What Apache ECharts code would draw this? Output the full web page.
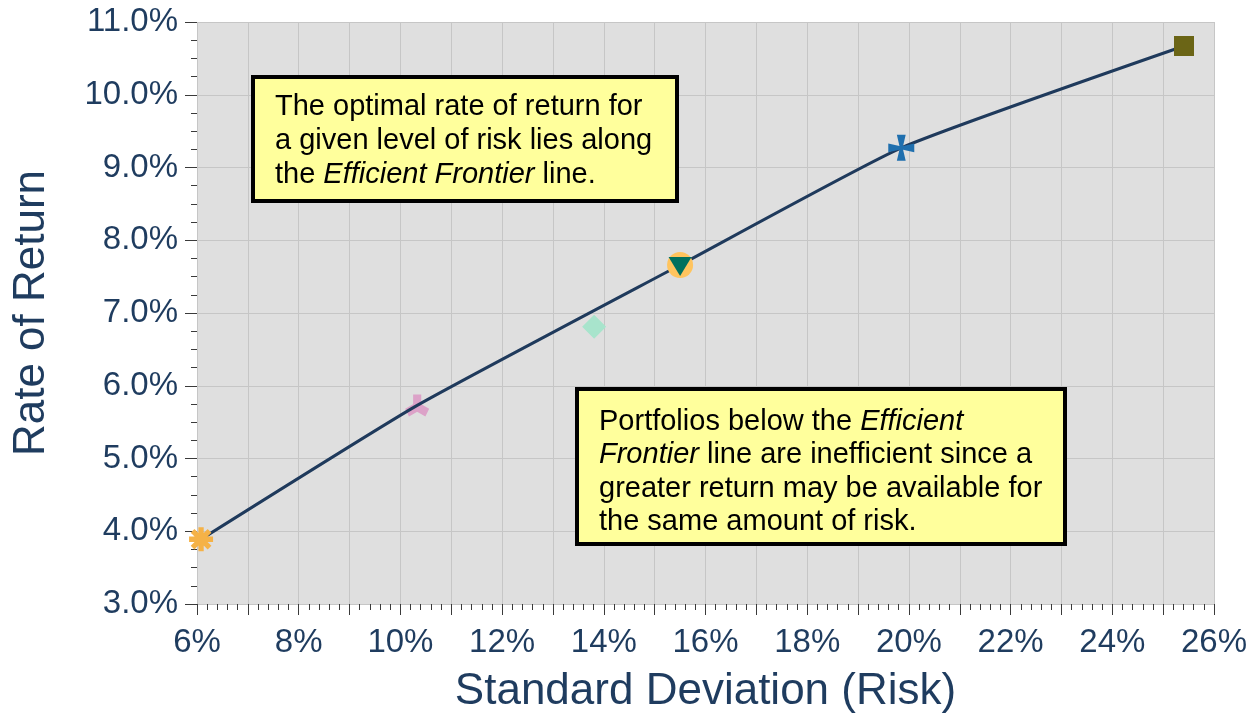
<!DOCTYPE html>
<html>
<head>
<meta charset="utf-8">
<title>Efficient Frontier</title>
<script src="https://cdn.jsdelivr.net/npm/echarts@6/dist/echarts.min.js"></script>
<style>
  html, body { margin: 0; padding: 0; background: #ffffff; }
  #chart { width: 1257px; height: 717px; }
</style>
</head>
<body>
<div id="chart"></div>
<script>
// Efficient frontier: risk (standard deviation, %) vs. rate of return (%)
const frontierRisk   = [6.08, 10.33, 15.50, 19.85, 25.41];
const frontierReturn = [3.89, 5.73, 7.66, 9.27, 10.67];

// Individual portfolios plotted with their own markers
const portfolioRisk   = [6.08, 10.33, 13.81, 15.50, 15.50, 19.85, 25.41];
const portfolioReturn = [3.89, 5.73, 6.81, 7.66, 7.64, 9.27, 10.67];

// Axis tick labels
const riskTickLabels   = [6, 8, 10, 12, 14, 16, 18, 20, 22, 24, 26];
const returnTickLabels = [3, 4, 5, 6, 7, 8, 9, 10, 11];

const FONT = '"Liberation Sans", Arial, sans-serif';
const NAVY = '#1F3C5F';

// Build a symbol path made of rectangular spokes radiating from the centre
function spokePath(angles, inner, outer, width) {
  let d = '';
  const h = width / 2;
  angles.forEach(function (deg) {
    const a = deg * Math.PI / 180;
    const ux = Math.cos(a), uy = Math.sin(a);
    const px = -uy, py = ux;
    const pts = [
      [ux * inner + px * h, uy * inner + py * h],
      [ux * outer + px * h, uy * outer + py * h],
      [ux * outer - px * h, uy * outer - py * h],
      [ux * inner - px * h, uy * inner - py * h]
    ];
    d += 'M' + pts.map(function (p) { return (p[0] + 50).toFixed(2) + ',' + (p[1] + 50).toFixed(2); }).join('L') + 'Z';
  });
  return 'path://' + d;
}

const asteriskSymbol = spokePath([0, 45, 90, 135, 180, 225, 270, 315], 0, 50, 22);
const tripodSymbol   = spokePath([270, 28, 152], -8, 48, 34);
const crossSymbol    = 'path://M33,0L67,0L57,43L100,33L100,67L57,57L67,100L33,100L43,57L0,67L0,33L43,43Z';

// Marker appearance for each portfolio, in the same order as the arrays above
const markerStyles = [
  { symbol: asteriskSymbol, size: 24, color: '#F5B247', z: 4 },
  { symbol: tripodSymbol,   size: [24, 22], color: '#DCA2C8', z: 1 },
  { symbol: 'diamond',      size: 24, color: '#A8E4CC', z: 4 },
  { symbol: 'circle',       size: 26, color: '#FFC45E', z: 4 },
  { symbol: 'triangle',     size: [23, 19], color: '#00705E', z: 5, rotate: 180 },
  { symbol: crossSymbol,    size: 26, color: '#1F6FAE', z: 4 },
  { symbol: 'rect',         size: 20, color: '#6B6516', z: 4 }
];

const markerSeries = portfolioRisk.map(function (r, i) {
  const s = markerStyles[i];
  return {
    type: 'scatter',
    data: [[r, portfolioReturn[i]]],
    symbol: s.symbol,
    symbolSize: s.size,
    symbolRotate: s.rotate || 0,
    itemStyle: { color: s.color, opacity: 1 },
    z: s.z,
    silent: true
  };
});

// Yellow call-out box with a thick black frame
function noteBox(x, y, w, h, tx, ty, text, lineHeight) {
  return [
    {
      type: 'rect',
      z: 100,
      shape: { x: x, y: y, width: w, height: h },
      style: { fill: '#FFFF9C', stroke: '#000000', lineWidth: 4 }
    },
    {
      type: 'text',
      z: 101,
      x: tx, y: ty,
      style: {
        text: text,
        fill: '#000000',
        fontSize: 29,
        fontFamily: FONT,
        lineHeight: lineHeight,
        verticalAlign: 'top',
        rich: {
          i: { fontStyle: 'italic', fontSize: 29, fontFamily: FONT, lineHeight: lineHeight, fill: '#000000' }
        }
      }
    }
  ];
}

const chart = echarts.init(document.getElementById('chart'), null, { renderer: 'canvas' });

chart.setOption({
  animation: false,
  backgroundColor: '#ffffff',
  grid: {
    left: 197, right: 43, top: 22, bottom: 113,
    containLabel: false,
    outerBoundsMode: 'none',
    show: true, backgroundColor: '#DFDFDF', borderWidth: 0
  },
  xAxis: {
    type: 'value',
    min: 6, max: 26, interval: 1,
    name: 'Standard Deviation (Risk)',
    nameLocation: 'middle',
    nameGap: 66,
    nameTextStyle: { color: NAVY, fontSize: 44, fontFamily: FONT },
    axisLine: { show: false },
    axisTick: { show: true, length: 11, lineStyle: { color: '#3A3A3A', width: 1 } },
    minorTick: { show: true, splitNumber: 5, length: 6, lineStyle: { color: '#3A3A3A', width: 1 } },
    splitLine: { show: true, lineStyle: { color: '#C6C6C6', width: 1 } },
    axisLabel: {
      color: NAVY, fontSize: 33, fontFamily: FONT, margin: 22,
      showMinLabel: true, showMaxLabel: true, hideOverlap: false,
      formatter: function (v) {
        return riskTickLabels.indexOf(Math.round(v)) >= 0 && Math.abs(v - Math.round(v)) < 1e-6 ? Math.round(v) + '%' : '';
      }
    }
  },
  yAxis: {
    type: 'value',
    min: 3, max: 11, interval: 1,
    name: 'Rate of Return',
    nameLocation: 'middle',
    nameGap: 143,
    nameRotate: 90,
    nameTextStyle: { color: NAVY, fontSize: 44, fontFamily: FONT },
    axisLine: { show: false },
    axisTick: { show: true, length: 12, lineStyle: { color: '#3A3A3A', width: 1 } },
    minorTick: { show: true, splitNumber: 4, length: 6, lineStyle: { color: '#3A3A3A', width: 1 } },
    splitLine: { show: true, lineStyle: { color: '#C6C6C6', width: 1 } },
    axisLabel: {
      color: NAVY, fontSize: 33, fontFamily: FONT, margin: 19,
      showMinLabel: true, showMaxLabel: true,
      formatter: function (v) {
        return returnTickLabels.indexOf(Math.round(v)) >= 0 ? v.toFixed(1) + '%' : '';
      }
    }
  },
  series: [markerSeries[1], {
    type: 'line',
    data: frontierRisk.map(function (r, i) { return [r, frontierReturn[i]]; }),
    showSymbol: false,
    symbol: 'none',
    smooth: 0.15,
    lineStyle: { color: '#1F3A5C', width: 3 },
    z: 2,
    silent: true
  }].concat(markerSeries.filter(function (s, i) { return i !== 1; })),
  graphic: {
    elements: noteBox(253, 77, 424, 124, 275, 90,
      'The optimal rate of return for\na given level of risk lies along\nthe {i|Efficient Frontier} line.', 34)
      .concat(noteBox(577, 389, 488, 155, 599, 405,
      'Portfolios below the {i|Efficient}\n{i|Frontier} line are inefficient since a\ngreater return may be available for\nthe same amount of risk.', 33.5))
  }
});
</script>
</body>
</html>
